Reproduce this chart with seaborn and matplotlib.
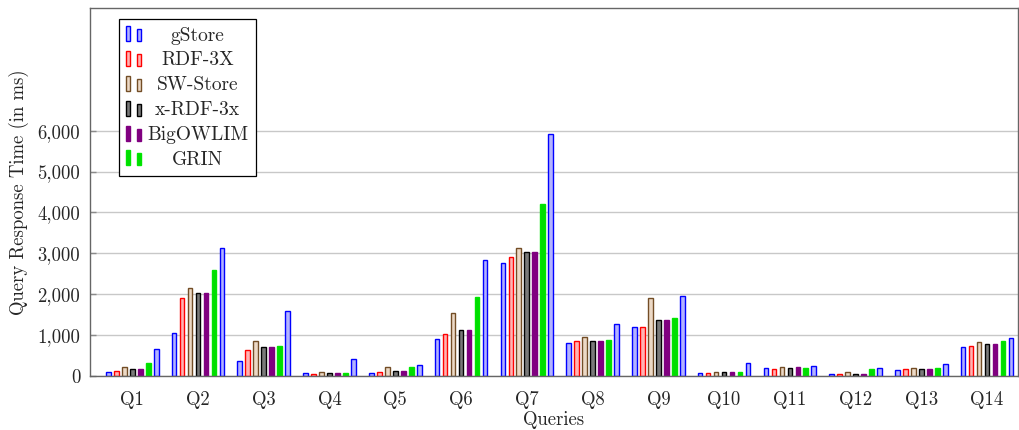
import numpy as np
import pandas as pd
import matplotlib
matplotlib.use("Agg")
import matplotlib.pyplot as plt
import seaborn as sns
from matplotlib.patches import Rectangle, Patch
from matplotlib.legend_handler import HandlerBase
from matplotlib.ticker import FuncFormatter

# Query response times (ms) per system
queries = [f"Q{i}" for i in range(1, 15)]
series = ["gStore", "RDF-3X", "SW-Store", "x-RDF-3x", "BigOWLIM", "GRIN", "gStore*"]
gstore = [100, 1056, 370, 77, 85, 894, 2757, 796, 1204, 85, 191, 52, 135, 698]
rdf3x = [125, 1900, 640, 60, 110, 1017, 2912, 845, 1204, 85, 159, 44, 167, 730]
swstore = [223, 2145, 845, 100, 208, 1547, 3125, 943, 1900, 110, 232, 93, 191, 828]
xrdf3x = [160, 2022, 698, 85, 118, 1115, 3027, 845, 1360, 100, 199, 61, 183, 772]
bigowlim = [160, 2022, 698, 85, 118, 1115, 3027, 845, 1360, 100, 208, 61, 183, 772]
grin = [314, 2600, 730, 85, 232, 1924, 4218, 870, 1417, 110, 199, 167, 191, 845]
gstore_full = [650, 3140, 1580, 404, 257, 2831, 5926, 1277, 1956, 322, 240, 191, 289, 934]
values = [gstore, rdf3x, swstore, xrdf3x, bigowlim, grin, gstore_full]

fills = ["#b3b3ff", "#ffb3b3", "#ecd9c6", "#7a7a7a", "#800080", "#00dd00", "#b3b3ff"]
edges = ["#0000ff", "#ff0000", "#734d26", "#000000", "#800080", "#00e600", "#0000ff"]

df = pd.DataFrame({
    "query": np.tile(queries, len(series)),
    "series": np.repeat(series, len(queries)),
    "time": np.concatenate(values),
})

sns.set_theme(style="white")
plt.rcParams["font.family"] = "cmr10"
plt.rcParams["axes.formatter.use_mathtext"] = True
plt.rcParams["mathtext.fontset"] = "cm"

FS = 13.5

fig = plt.figure(figsize=(10.2, 4.3), dpi=100)
ax = fig.add_axes([90 / 1020, 1 - 376 / 430, 928 / 1020, 368 / 430])

sns.barplot(
    data=df, x="query", y="time", hue="series",
    order=queries, hue_order=series,
    palette=dict(zip(series, fills)), saturation=1,
    width=0.851, gap=0.42, errorbar=None, legend=False,
    linewidth=1.0, ax=ax,
)
for cont, ec in zip(ax.containers, edges):
    for bar in cont:
        bar.set_edgecolor(ec)

ax.set_xlim(-0.643, 13.47)
ax.set_ylim(0, 9000)
ax.set_yticks(range(0, 7000, 1000))
ax.yaxis.set_major_formatter(FuncFormatter(lambda v, p: f"{int(v):,}"))
ax.tick_params(axis="y", direction="in", length=4, width=1, color="#8a8a8a",
               pad=7, labelsize=FS, left=True)
ax.tick_params(axis="x", length=0, pad=11, labelsize=FS)
ax.yaxis.grid(True, color="#c8c8c8", lw=1)
ax.set_axisbelow(True)
for s in ax.spines.values():
    s.set_color("#666666")
    s.set_linewidth(1.0)

ax.set_xlabel("Queries", fontsize=FS, labelpad=1.5)
ax.set_ylabel("Query Response Time (in ms)", fontsize=FS, labelpad=6)


class TwinBars(HandlerBase):
    """Legend key drawn as two small bars of unequal height."""

    def create_artists(self, legend, orig_handle, xdescent, ydescent,
                       width, height, fontsize, trans):
        fc = orig_handle.get_facecolor()
        ec = orig_handle.get_edgecolor()
        bw = width * 0.27
        x0 = -xdescent
        y0 = -ydescent
        r1 = Rectangle((x0, y0), bw, height, facecolor=fc, edgecolor=ec, lw=1.0)
        r2 = Rectangle((x0 + width * 0.69, y0), bw, height * 0.8,
                       facecolor=fc, edgecolor=ec, lw=1.0)
        for r in (r1, r2):
            r.set_transform(trans)
        return [r1, r2]


handles = [Patch(facecolor=f, edgecolor=e) for f, e in zip(fills[:6], edges[:6])]
leg = ax.legend(
    handles, series[:6], handler_map={Patch: TwinBars()},
    loc="upper left", bbox_to_anchor=(0.031, 0.970), borderaxespad=0,
    frameon=True, fancybox=False, edgecolor="black", framealpha=1,
    fontsize=FS + 0.5, handlelength=0.78, handleheight=0.8, handletextpad=0.3,
    labelspacing=0.34, borderpad=0.38,
)
leg.get_frame().set_linewidth(0.9)

# centre each legend label within the label column
fig.canvas.draw()
renderer = fig.canvas.get_renderer()
texts = leg.get_texts()
widths = [t.get_window_extent(renderer).width for t in texts]
wmax = max(widths)
for t, w in zip(texts, widths):
    t.set_position(((wmax - w) / 2, 0))

fig.savefig("out.png", dpi=100)
